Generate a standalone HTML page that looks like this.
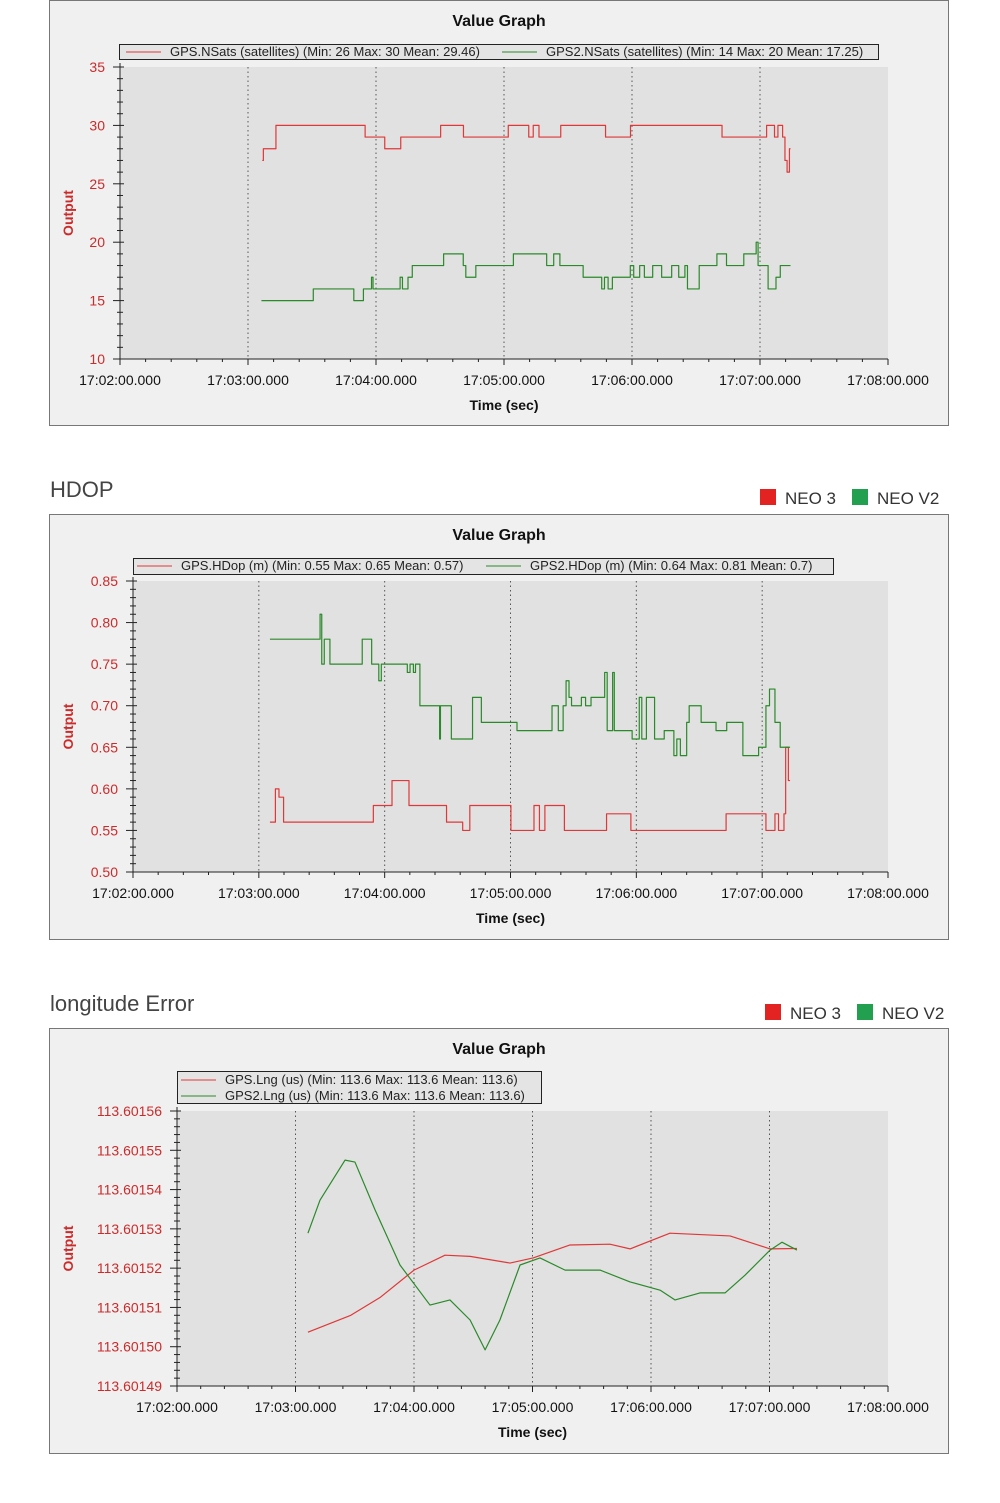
<!DOCTYPE html>
<html><head><meta charset="utf-8"><style>
html,body{margin:0;padding:0;background:#fff;width:1000px;height:1503px;overflow:hidden;font-family:"Liberation Sans",sans-serif}
svg{display:block}
</style></head><body>
<svg id="page" width="1000" height="1503" viewBox="0 0 1000 1503" xmlns="http://www.w3.org/2000/svg" font-family="Liberation Sans, sans-serif">
<text x="50" y="497" font-size="22" fill="#444">HDOP</text>
<rect x="760" y="489" width="16" height="16" fill="#e32222"/>
<text x="785" y="504" font-size="17" fill="#333">NEO 3</text>
<rect x="852" y="489" width="16" height="16" fill="#22a050"/>
<text x="877" y="504" font-size="17" fill="#333">NEO V2</text>
<text x="50" y="1011" font-size="22" fill="#444">longitude Error</text>
<rect x="765" y="1004" width="16" height="16" fill="#e32222"/>
<text x="790" y="1019" font-size="17" fill="#333">NEO 3</text>
<rect x="857" y="1004" width="16" height="16" fill="#22a050"/>
<text x="882" y="1019" font-size="17" fill="#333">NEO V2</text>
</svg>
<script>
// ---- shared x axis ----
const xTickLabels = ["17:02:00.000","17:03:00.000","17:04:00.000","17:05:00.000","17:06:00.000","17:07:00.000","17:08:00.000"];
const xTickSeconds = [0,60,120,180,240,300,360];

// ---- chart 1: NSats ----
const sats_yTicks = [10,15,20,25,30,35];
const sats_gpsT = [66.7,67.2,73.1,114.9,124.1,131.6,150.3,161,182,191.6,193.7,196.4,206.6,227.6,239.3,282.2,303.1,306.8,308.4,310.6,311.7,312.7,313.8];
const sats_gpsV = [27,28,30,29,28,29,30,29,30,29,30,29,30,29,30,29,30,29,30,29,27,26,28];
const sats_gps2T = [66.3,90.6,109.6,114.1,117.9,118.6,131.3,132.4,135,137,151.7,160.9,162.1,166.8,184.4,200,203.3,206.2,217.1,225.8,227.1,228.8,230.8,239.2,240.8,243.6,245.8,249.7,253.9,258.6,261.9,264.8,266,271.5,279.8,284.3,292.4,298.2,299.1,303.8,307.5,309.5];
const sats_gps2V = [15,16,15,16,17,16,17,16,17,18,19,18,17,18,19,18,19,18,17,16,17,16,17,18,17,18,17,18,17,18,17,18,16,18,19,18,19,20,18,16,17,18];
const sats_end = 314.3;

// ---- chart 2: HDOP ----
const hdop_yTicks = [0.50,0.55,0.60,0.65,0.70,0.75,0.80,0.85];
const hdop_gpsT = [65.3,67.9,69.6,71.8,114.6,123.5,131.6,149.5,157.2,160.6,180.2,191.2,193.8,196.4,205.7,225.8,237.4,282.8,301.8,306.1,307.8,310.4,311.2,312.5];
const hdop_gpsV = [0.56,0.60,0.59,0.56,0.58,0.61,0.58,0.56,0.55,0.58,0.55,0.58,0.55,0.58,0.55,0.57,0.55,0.57,0.55,0.57,0.55,0.57,0.65,0.61];
const hdop_gps2T = [65.3,89.2,90,91.2,93.9,109.3,113.8,117.2,118.4,130.8,132.1,133.7,134.7,136.8,146.2,146.6,151.8,161.9,166.1,183.1,199.8,202.8,205.1,206.5,207.9,209.1,213.8,215.8,218.4,224.9,226.1,228.7,229.5,238,241.4,242.6,244.8,248.7,253.3,257.9,259.3,261,264,265.2,270.9,278,283.1,290.8,298.3,301.8,303.5,306.1,308.6];
const hdop_gps2V = [0.78,0.81,0.75,0.78,0.75,0.78,0.75,0.73,0.75,0.74,0.75,0.74,0.75,0.70,0.66,0.70,0.66,0.71,0.68,0.67,0.70,0.67,0.70,0.73,0.71,0.70,0.71,0.70,0.71,0.74,0.67,0.74,0.67,0.66,0.71,0.66,0.71,0.66,0.67,0.64,0.66,0.64,0.68,0.70,0.68,0.67,0.68,0.64,0.65,0.70,0.72,0.68,0.65];
const hdop_end = 313.3;

// ---- chart 3: longitude ----
const lng_yTicks = [113.60149,113.60150,113.60151,113.60152,113.60153,113.60154,113.60155,113.60156];
const lng_gpsT = [66.3,88,103,120,135.7,148.4,168.6,180.3,199,219.2,229.4,249.6,280,300.3,313.9];
const lng_gpsV = [113.6015037,113.601508,113.6015126,113.6015195,113.6015233,113.601523,113.6015213,113.6015226,113.6015259,113.6015261,113.6015249,113.6015289,113.6015282,113.6015249,113.601525];
const lng_gps2T = [66.3,72.4,85.1,90.1,100.3,112.9,128.1,138.2,148.4,156,163.5,173.7,183.8,196.5,214.2,229.4,244.6,252.2,264.8,277.5,287.6,300.3,306.3,313.9];
const lng_gps2V = [113.6015289,113.6015373,113.6015475,113.601547,113.6015348,113.6015208,113.6015106,113.6015119,113.6015068,113.6014992,113.6015068,113.6015208,113.6015226,113.6015195,113.6015195,113.6015165,113.6015144,113.6015119,113.6015137,113.6015137,113.6015182,113.6015246,113.6015266,113.6015246];

const NS = "http://www.w3.org/2000/svg";
const svg = document.getElementById('page');
function mk(tag, attrs, parent){
  const e = document.createElementNS(NS, tag);
  for (const k in attrs) e.setAttribute(k, attrs[k]);
  (parent||svg).appendChild(e);
  return e;
}

function drawChart(cfg){
  const g = mk('g', {});
  
  
  const bg = mk('rect', {x:49.5, y:cfg.boxY+0.5, width:899, height:425, fill:'#f0f0f0', stroke:'#777'}, g);
  
  
  const title = mk('text', {x:499, y:cfg.boxY+26, 'font-size':16, 'font-weight':'bold', 'text-anchor':'middle', fill:'#111'}, g);
  title.textContent = 'Value Graph';
  
  
  const X = t => cfg.x0 + (t/360)*(cfg.x1-cfg.x0);
  const Y = v => cfg.y1 - (v-cfg.yMin)/(cfg.yMax-cfg.yMin)*(cfg.y1-cfg.y0);
  const plot = mk('rect', {x:cfg.x0, y:cfg.y0, width:cfg.x1-cfg.x0, height:cfg.y1-cfg.y0, fill:'#e1e1e1'}, g);
  
  
  for (let i=1;i<xTickSeconds.length-1;i++){
    const gl = mk('line', {x1:X(xTickSeconds[i]), x2:X(xTickSeconds[i]), y1:cfg.y0, y2:cfg.y1, stroke:'#555', 'stroke-dasharray':'1.5,3', 'stroke-width':1}, g);
    
    
  }
  mk('line', {x1:cfg.x0, x2:cfg.x0, y1:cfg.y0-4, y2:cfg.y1, stroke:'#222'}, g);
  mk('line', {x1:cfg.x0-6, x2:cfg.x1, y1:cfg.y1, y2:cfg.y1, stroke:'#222'}, g);
  for (let t=0;t<=360;t+=12){
    mk('line', {x1:X(t), x2:X(t), y1:cfg.y1, y2:cfg.y1+(t%60===0?6:3), stroke:'#222'}, g);
  }
  xTickSeconds.forEach((t,i)=>{
    const tx = mk('text', {x:X(t), y:cfg.y1+26, 'font-size':14, 'text-anchor':'middle', fill:'#111'}, g);
    tx.textContent = xTickLabels[i];
    
    
  });
  const yt = cfg.yTicks;
  const step = yt[1]-yt[0];
  for (let i=0;i<yt.length;i++){
    const y = Y(yt[i]);
    mk('line', {x1:cfg.x0-7, x2:cfg.x0+4, y1:y, y2:y, stroke:'#222'}, g);
    if (i<yt.length-1){
      for (let k=1;k<cfg.minor;k++){
        const ym = Y(yt[i]+step*k/cfg.minor);
        mk('line', {x1:cfg.x0-3, x2:cfg.x0+3, y1:ym, y2:ym, stroke:'#222'}, g);
      }
    }
    const ty = mk('text', {x:cfg.x0-15, y:y+5, 'font-size':14, 'text-anchor':'end', fill:'#cc2b2b'}, g);
    ty.textContent = yt[i].toFixed(cfg.dec);
    
    
  }
  const xt = mk('text', {x:(cfg.x0+cfg.x1)/2, y:cfg.y1+51, 'font-size':14, 'font-weight':'bold', 'text-anchor':'middle', fill:'#111'}, g);
  xt.textContent = 'Time (sec)';
  
  
  const oy = (cfg.y0+cfg.y1)/2;
  const yTitle = mk('text', {x:cfg.outX, y:oy, 'font-size':14, 'font-weight':'bold', 'text-anchor':'middle', fill:'#cc2b2b', transform:`rotate(-90 ${cfg.outX} ${oy})`}, g);
  yTitle.textContent = 'Output';
  
  
  cfg.series.forEach(s=>{
    let d = '';
    if (s.step){
      for (let i=0;i<s.t.length;i++){
        const x = X(s.t[i]), y = Y(s.v[i]);
        if (i===0) d += `M${x},${y}`;
        else d += `H${x}V${y}`;
      }
      d += `H${X(s.end)}`;
    } else {
      s.t.forEach((t,i)=>{ d += (i?'L':'M') + X(t) + ',' + Y(s.v[i]); });
    }
    const p = mk('path', {d, fill:'none', stroke:s.color, 'stroke-width':1.2, 'stroke-linejoin':'round'}, g);
    
    
  });
  const L = cfg.legend;
  const lb = mk('rect', {x:L.x+0.5, y:L.y+0.5, width:L.w, height:L.h, fill:'#e4e4e4', stroke:'#222'}, g);
  
  
  L.items.forEach(it=>{
    mk('line', {x1:it.x, x2:it.x+35, y1:it.y-4, y2:it.y-4, stroke:it.color}, g);
    const lt = mk('text', {x:it.x+44, y:it.y, 'font-size':13, fill:'#222'}, g);
    lt.textContent = it.text;
    
    
  });
}

const RED = '#e03838', GREEN = '#2a8a2a';
drawChart({name:'nsats-chart', boxY:0, x0:120, x1:888, y0:67, y1:359, yMin:10, yMax:35, yTicks:sats_yTicks, minor:5, dec:0, outX:73,
  series:[{name:'gps-nsats-line', t:sats_gpsT, v:sats_gpsV, color:RED, step:true, end:sats_end},
          {name:'gps2-nsats-line', t:sats_gps2T, v:sats_gps2V, color:GREEN, step:true, end:sats_end}],
  legend:{x:119, y:44, w:759, h:15, items:[
    {x:126, y:56, color:RED, text:'GPS.NSats (satellites) (Min: 26 Max: 30 Mean: 29.46)'},
    {x:502, y:56, color:GREEN, text:'GPS2.NSats (satellites) (Min: 14 Max: 20 Mean: 17.25)'}]}});
drawChart({name:'hdop-chart', boxY:514, x0:133, x1:888, y0:581, y1:872, yMin:0.5, yMax:0.85, yTicks:hdop_yTicks, minor:5, dec:2, outX:73,
  series:[{name:'gps-hdop-line', t:hdop_gpsT, v:hdop_gpsV, color:RED, step:true, end:hdop_end},
          {name:'gps2-hdop-line', t:hdop_gps2T, v:hdop_gps2V, color:GREEN, step:true, end:hdop_end}],
  legend:{x:133, y:558, w:700, h:16, items:[
    {x:137, y:570, color:RED, text:'GPS.HDop (m) (Min: 0.55 Max: 0.65 Mean: 0.57)'},
    {x:486, y:570, color:GREEN, text:'GPS2.HDop (m) (Min: 0.64 Max: 0.81 Mean: 0.7)'}]}});
drawChart({name:'longitude-chart', boxY:1028, x0:177, x1:888, y0:1111, y1:1386, yMin:113.60149, yMax:113.60156, yTicks:lng_yTicks, minor:5, dec:5, outX:73,
  series:[{name:'gps-lng-line', t:lng_gpsT, v:lng_gpsV, color:RED, step:false},
          {name:'gps2-lng-line', t:lng_gps2T, v:lng_gps2V, color:GREEN, step:false}],
  legend:{x:177, y:1071, w:364, h:32, items:[
    {x:181, y:1084, color:RED, text:'GPS.Lng (us) (Min: 113.6 Max: 113.6 Mean: 113.6)'},
    {x:181, y:1100, color:GREEN, text:'GPS2.Lng (us) (Min: 113.6 Max: 113.6 Mean: 113.6)'}]}});
</script>
</body></html>
